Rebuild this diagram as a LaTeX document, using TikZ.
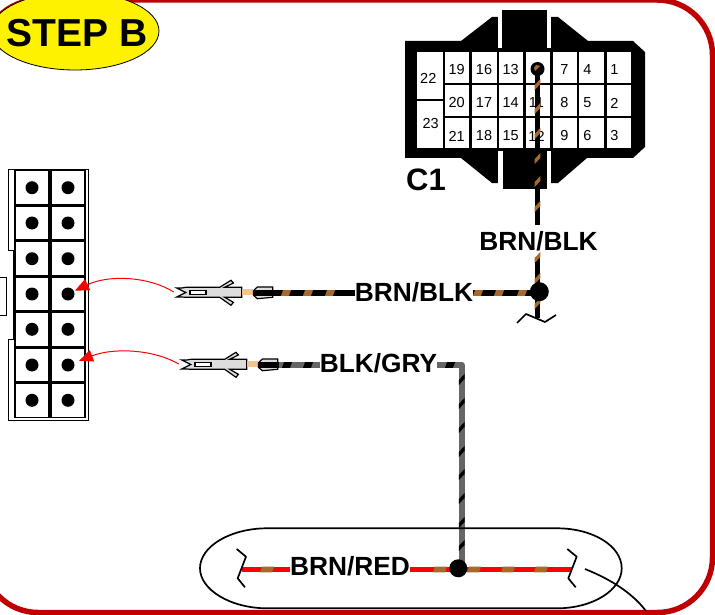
\documentclass[tikz,border=0pt]{standalone}
\usepackage{fontspec}
\setmainfont{Liberation Sans}
\usetikzlibrary{shapes.geometric}
\usetikzlibrary{arrows.meta}
\usetikzlibrary{positioning}
\definecolor{brnwire}{HTML}{A9692B}
\definecolor{grywire}{HTML}{666666}
\definecolor{bordred}{HTML}{C00000}
\definecolor{peach}{HTML}{F9C38E}
\definecolor{crimpgry}{HTML}{DDDDDD}
\tikzset{
wirelabel/.style={font=\bfseries\fontsize{26.3}{26.3}\selectfont, inner sep=0pt, minimum height=31pt},
pinnum/.style={font=\fontsize{14.5}{14.5}\selectfont, inner sep=0pt},
pindot/.style={circle, fill=black, inner sep=0pt, minimum size=13pt},
junct/.style={circle, fill=black, inner sep=0pt, minimum size=#1},
cavity/.style={draw=black, line width=1.5pt, fill=white, inner sep=0pt, minimum width=34pt, minimum height=34pt},
wire/.style={line width=5.6pt, #1},
breakline/.style={line width=1.7pt, line join=round},
redarrow/.style={red, line width=1pt, -{Triangle[length=14pt, width=12pt]}},
crimp/.pic={
\draw[line width=1.2pt, fill=crimpgry] (0,-4) -- (5,-4) -- (9.3,-4.7) -- (43,-4.7) -- (54.3,-11.7) -- (56.7,-9) -- (48,-4.7) -- (65,-4.7)
 -- (65,5.3) -- (48,5.3) -- (56.7,10.3) -- (54.3,13.3) -- (43,5.3) -- (9.3,5.3) -- (5,5) -- (0,5) -- (9,0.5) -- cycle;
\draw[line width=1.2pt, fill=white] (13.3,-1.7) rectangle (29.3,2.7);
\fill[peach] (65,-2.7) rectangle (76.7,3.3);
\draw[line width=1.2pt, fill=crimpgry] (76.7,-1.3) -- (80.7,-5) -- (96,-5) -- (96,5.3) -- (80.7,6.7) -- (76.7,3.3) -- cycle;
\coordinate (-core) at (76.7,1);
\coordinate (-end) at (97,1);
\coordinate (-tip) at (-3,0);
}
}
\newcommand{\hstripe}[4]{\fill[#3] (#1-#4,#2+2.8) -- (#1+#4-2,#2+2.8) -- (#1+#4,#2-2.8) -- (#1-#4+2,#2-2.8) -- cycle;}
\newcommand{\vstripe}[3]{\fill[#3] (#1-2.8,#2+5) -- (#1+2.8,#2-1) -- (#1+2.8,#2-6) -- (#1-2.8,#2) -- cycle;}
\begin{document}
\begin{tikzpicture}[x=1pt,y=-1pt]
\useasboundingbox (0,0) rectangle (715,615);
\clip (0,0) rectangle (715,615);
\draw[bordred, line width=5.5pt, rounded corners=55pt] (-17,0) rectangle (712.5,612.5);
\node[draw=black, line width=0.8pt, fill=yellow, ellipse, inner sep=0pt, minimum width=168pt, minimum height=78pt] (stepel) at (75,31) {};
\node[font=\bfseries\fontsize{39}{39}\selectfont, inner sep=0pt] (steplbl) at (77,33) {STEP B};

\fill (405,41) -- (633,41) -- (645,52) -- (645,147) -- (633,158) -- (405,158) -- cycle;
\fill (461,41) -- (492,17) -- (498,17) -- (498,48) -- (461,48) -- cycle;
\fill (588,41) -- (558,17) -- (551,17) -- (551,48) -- (588,48) -- cycle;
\fill (502,10) rectangle (547,48);
\fill (461,158) -- (492,183) -- (498,183) -- (498,150) -- (461,150) -- cycle;
\fill (587,158) -- (558,183) -- (551,183) -- (551,150) -- (587,150) -- cycle;
\fill (503,150) rectangle (547,189);
\fill[white] (498,10) rectangle (502,48);
\fill[white] (547,10) rectangle (551,48);
\fill[white] (498,151) rectangle (503,189);
\fill[white] (547,151) rectangle (551,189);

\fill[white] (416.7,52) rectangle (442.7,98.7);
\fill[white] (416.7,101.3) rectangle (442.7,148.3);
\node[pinnum] (num22) at (428.3,78.3) {22};
\node[pinnum] (num23) at (430.7,123.3) {23};
\foreach \cx/\lx/\a in {457/456.7/19, 484.3/484/16, 511/510.7/13, 538/536.5/10, 565/564.5/7, 591.7/587.3/4, 619/614.3/1}
\foreach \cy/\ly/\r in {67.2/70/0, 100.3/103/1, 132.8/136/2}
{
\pgfmathtruncatemacro{\n}{\a+\r}
\fill[white] (\cx-12.4,\cy-15.2) rectangle (\cx+12.4,\cy+15.4);
\ifnum\n=10\relax\else
\node[pinnum] (num\n) at (\lx,\ly) {\n};
\fi
}
\node[font=\bfseries\fontsize{31}{31}\selectfont, inner sep=0pt] (conC) at (426,180) {C1};

\foreach \r/\y in {1/187.7, 2/223, 3/258.7, 4/294, 5/329.3, 6/365, 7/400.3}
\foreach \c/\x in {1/32, 2/68}
{
\node[cavity] (cav\r\c) at (\x,\y) {};
\node[pindot] (pin\r\c) at (\x,\y) {};
}
\draw[line width=0.8pt] (8.3,169) -- (88,169) -- (88,420.7) -- (8.3,420.7) -- (8.3,339.3) -- (13.3,339.3) -- (13.3,250) -- (8.3,250) -- cycle;
\draw[line width=0.8pt, fill=white] (-2,277.3) rectangle (6,315.3);

\pic (termA) at (176.7,292) {crimp};
\pic (termB) at (181.7,364) {crimp};
\draw[redarrow, shorten >=1pt] (termA-tip) .. controls (150,277) and (110,274) .. (pin42);
\draw[redarrow, shorten >=5pt] (termB-tip) .. controls (155,350) and (115,347) .. (pin62);

% vertical wire from C1
\node[junct=14pt] (pin10) at (537.5,69) {};
\node[wirelabel] (lblV) at (538.5,241) {BRN/BLK};
\node[wirelabel] (lblH) at (414,292) {BRN/BLK};
\node[wirelabel] (lblG) at (378.5,363) {BLK/GRY};
\node[wirelabel] (lblR) at (350,566) {BRN/RED};
\coordinate (gndA) at (537,318);
\coordinate (cornG) at (461.7,365.7);
\draw[wire=black] (pin10.center) -- (pin10.center |- lblV.north);
\draw[wire=black] (pin10.center |- lblV.south) -- (pin10.center |- gndA);
\draw[wire=black] (termA-core) -- (termA-end -| lblH.west);
\draw[wire=black] (termA-end -| lblH.east) -- (termA-end -| gndA);
\foreach \y in {85,109,134,159,182,207,258,279,304} {\vstripe{537.5}{\y}{brnwire}}
\fill[brnwire] (535,71) -- (540,66) -- (536,65) -- (534,68) -- cycle;
\foreach \x in {286,308,330,478,499,522} {\hstripe{\x}{293}{brnwire}{5}}
\node[junct=19pt] (jctA) at (539.3,291.7) {};
\draw[breakline] (517,323) -- (526,314) -- (545,322) -- (556,315);

\draw[wire=black] (termB-core) -- (termB-end);
\draw[wire=grywire] (termB-end) -- (termB-end -| lblG.west);
\coordinate (jctG) at (461.7,568);
\draw[wire=grywire, line join=round] (termB-end -| lblG.east) -- (termB-end -| cornG) -- (jctG);
\foreach \x in {287,308,450} {\hstripe{\x}{365}{black}{5}}
\foreach \y in {380,404,428,452,475,499,523,546} {\vstripe{461.7}{\y}{black}}

\draw[breakline] (267,528.3) -- (557,528.3) .. controls (593,528.3) and (621.7,546) .. (621.7,568.3) .. controls (621.7,590) and (593,608.3) .. (557,608.3) -- (267,608.3) .. controls (231,608.3) and (200,590) .. (200,568.3) .. controls (200,546) and (231,528.3) .. (267,528.3) -- cycle;
\coordinate (brkL) at (241.7,569.5);
\coordinate (brkR) at (572,569.5);
\draw[wire=red] (brkL) -- (brkL -| lblR.west);
\draw[wire=red] (brkL -| lblR.east) -- (brkR);
\foreach \x in {267,440,474,508,541} {\hstripe{\x}{569.5}{brnwire}{7}}
\node[junct=18pt] (jctB) at (458.3,568.3) {};
\draw[breakline] (236.7,549) -- (246,556.7) -- (237.7,578.3) -- (245,587.3);
\draw[breakline] (567.3,549) -- (576.7,556.7) -- (568.3,578.3) -- (575.7,587.3);
\coordinate (leadA) at (585,569);
\coordinate (leadB) at (646,611);
\draw[breakline] (leadA) .. controls (605,577) and (630,590) .. (leadB);
\end{tikzpicture}
\end{document}
